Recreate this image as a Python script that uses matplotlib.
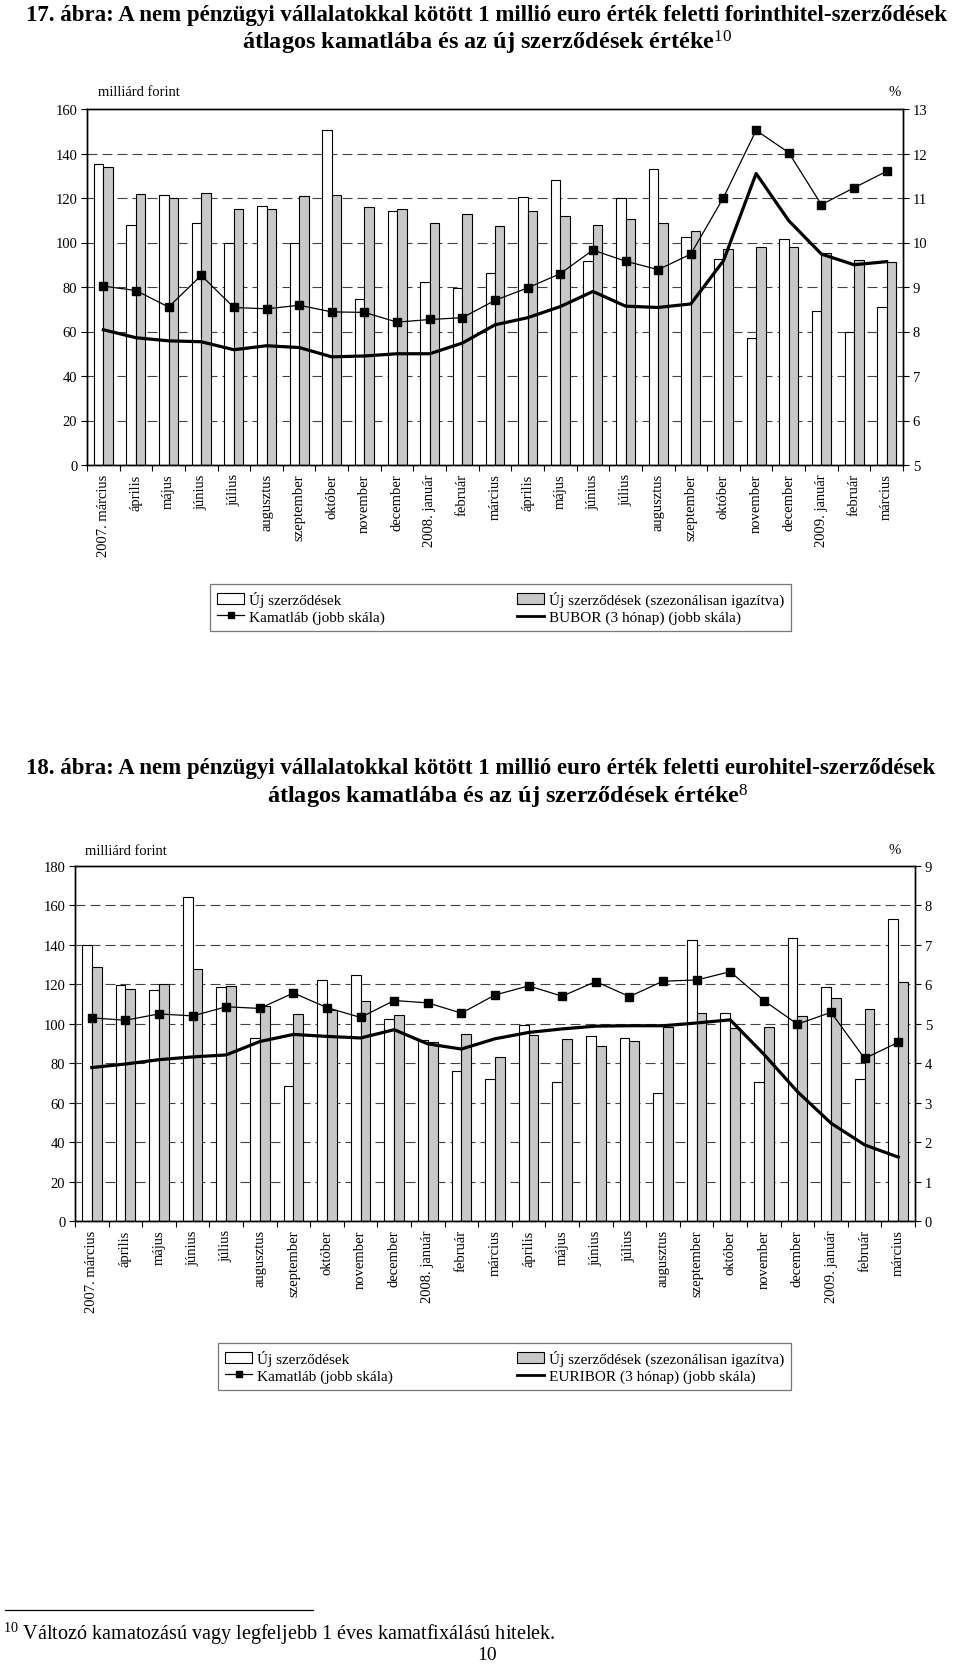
import matplotlib
matplotlib.use("Agg")
import matplotlib.pyplot as plt
import numpy as np
from matplotlib.lines import Line2D
from matplotlib.patches import Patch

plt.rcParams['font.family'] = ['Liberation Serif', 'DejaVu Serif']
plt.rcParams['mathtext.fontset'] = 'custom'
plt.rcParams['mathtext.rm'] = 'Liberation Serif'
plt.rcParams['mathtext.it'] = 'Liberation Serif:italic'
plt.rcParams['mathtext.bf'] = 'Liberation Serif:bold'

months = ["2007. március", "április", "május", "június", "július", "augusztus",
          "szeptember", "október", "november", "december", "2008. január", "február",
          "március", "április", "május", "június", "július", "augusztus",
          "szeptember", "október", "november", "december", "2009. január", "február",
          "március"]

# Chart 17 (forint loans)
huf_new = [135.1, 108.0, 121.3, 108.9, 100.0, 116.3, 99.8, 150.7, 74.6, 114.3, 82.1, 79.6,
           86.3, 120.3, 128.2, 91.5, 119.9, 133.2, 102.3, 92.4, 57.2, 101.6, 69.1, 59.6, 71.2]
huf_sa = [133.9, 121.6, 120.0, 122.1, 114.9, 114.9, 121.0, 121.3, 116.1, 114.9, 108.9, 112.7,
          107.6, 114.0, 112.1, 107.7, 110.7, 108.6, 105.3, 97.2, 98.0, 98.0, 95.1, 92.3, 91.1]
huf_rate = [9.02, 8.92, 8.55, 9.26, 8.54, 8.51, 8.59, 8.44, 8.43, 8.21, 8.27, 8.31,
            8.70, 8.98, 9.30, 9.83, 9.58, 9.39, 9.74, 11.01, 12.52, 12.02, 10.85, 11.23, 11.60]
bubor = [8.04, 7.86, 7.79, 7.77, 7.59, 7.68, 7.64, 7.43, 7.45, 7.50, 7.50, 7.74,
         8.15, 8.31, 8.56, 8.90, 8.57, 8.54, 8.62, 9.59, 11.55, 10.49, 9.74, 9.50, 9.57]

# Chart 18 (euro loans)
eur_new = [140.0, 119.8, 116.9, 164.5, 118.8, 92.9, 68.5, 122.1, 124.5, 102.6, 91.8, 76.2,
           71.9, 99.2, 70.7, 93.6, 92.9, 64.9, 142.4, 105.3, 70.5, 143.7, 118.9, 71.9, 153.2]
eur_sa = [129.0, 117.4, 120.1, 128.0, 119.3, 109.1, 104.8, 107.0, 111.8, 104.3, 90.9, 94.6,
          83.2, 94.3, 92.1, 88.7, 91.4, 98.2, 105.3, 97.8, 98.5, 103.7, 113.2, 107.6, 121.1]
eur_rate = [5.15, 5.09, 5.25, 5.20, 5.43, 5.39, 5.78, 5.41, 5.16, 5.59, 5.53, 5.27,
            5.73, 5.96, 5.70, 6.07, 5.69, 6.08, 6.11, 6.32, 5.59, 4.99, 5.29, 4.12, 4.53]
euribor = [3.89, 3.98, 4.09, 4.16, 4.21, 4.55, 4.73, 4.68, 4.64, 4.85, 4.49, 4.36,
           4.62, 4.78, 4.87, 4.94, 4.95, 4.95, 5.02, 5.10, 4.23, 3.28, 2.48, 1.93, 1.62]

W, H = 960, 1665
fig = plt.figure(figsize=(W / 100, H / 100), dpi=100)

FS = 10.5
LFS = 11
GRAY = '#c8c8c8'


def fx(px):
    return px / W


def fy(py):
    return 1 - py / H


def draw_chart(rect, new, sa, rate, ref, lmax, lstep, rlim, rstep, ref_label, leg_rect):
    ax = fig.add_axes(rect)
    x = np.arange(len(months))
    bw = 0.29
    ax.bar(x - bw, new, width=bw, align='edge', color='white', edgecolor='black',
           linewidth=0.8, zorder=2)
    ax.bar(x, sa, width=bw, align='edge', color=GRAY, edgecolor='black',
           linewidth=0.8, zorder=2)
    ax.set_xlim(-0.5, len(months) - 0.5)
    ax.set_ylim(0, lmax)
    ax.set_yticks(np.arange(0, lmax + 1, lstep))
    for v in np.arange(lstep, lmax, lstep):
        ax.axhline(v, color='#444444', linewidth=0.8, linestyle=(0, (9, 4.5)), zorder=1)
    ax.set_xticks(x)
    ax.set_xticklabels(months, rotation=90, fontsize=FS, va='top', ha='center')
    ax.set_xticks(np.arange(-0.5, len(months), 1), minor=True)
    ax.tick_params(axis='x', which='major', length=0, pad=6)
    ax.tick_params(axis='x', which='minor', length=4, width=0.8, direction='out')
    ax.tick_params(axis='y', length=4, width=0.8, labelsize=FS, pad=3)
    for s in ax.spines.values():
        s.set_linewidth(1.0)
    ax2 = ax.twinx()
    ax2.set_ylim(*rlim)
    ax2.set_yticks(np.arange(rlim[0], rlim[1] + 0.01, rstep))
    ax2.tick_params(axis='y', length=4, width=0.8, labelsize=FS, pad=3)
    ax2.plot(x, rate, color='black', linewidth=0.9, marker='s', markersize=5.8, zorder=5)
    ax2.plot(x, ref, color='black', linewidth=2.3, zorder=4)
    for s in ax2.spines.values():
        s.set_linewidth(1.0)
    ax.set_zorder(1)
    ax2.set_zorder(2)
    ax2.patch.set_visible(False)

    handles = [Patch(facecolor='white', edgecolor='black', linewidth=0.8),
               Line2D([], [], color='black', linewidth=0.9, marker='s', markersize=4.5),
               Patch(facecolor=GRAY, edgecolor='black', linewidth=0.8),
               Line2D([], [], color='black', linewidth=2.0)]
    labels = ['Új szerződések', 'Kamatláb (jobb skála)',
              'Új szerződések (szezonálisan igazítva)', ref_label]
    leg = fig.legend(handles, labels, ncol=2, loc='center', bbox_to_anchor=leg_rect,
                     mode='expand', fontsize=LFS, frameon=True, fancybox=False,
                     borderpad=0.45, labelspacing=0.2, handlelength=1.8,
                     handletextpad=0.3, handleheight=0.7, borderaxespad=0.0)
    leg.get_frame().set_edgecolor('#555555')
    leg.get_frame().set_linewidth(0.9)
    return ax, ax2


# Chart 1
ax1, ax1r = draw_chart([fx(87), fy(466), fx(903 - 87), (466 - 110) / H],
                       huf_new, huf_sa, huf_rate, bubor, 160, 20, (5, 13), 1,
                       'BUBOR (3 hónap) (jobb skála)',
                       (fx(210), fy(630), fx(791 - 210), 43 / H))
fig.text(fx(98), fy(93), 'milliárd forint', fontsize=FS, ha='left', va='center')
fig.text(fx(895), fy(93), '%', fontsize=FS, ha='center', va='center')

fig.text(fx(487), fy(15), '17. ábra: A nem pénzügyi vállalatokkal kötött 1 millió euro érték feletti forinthitel-szerződések',
         fontsize=16.5, fontweight='bold', ha='center', va='center')
fig.text(fx(487), fy(43), r'átlagos kamatlába és az új szerződések értéke$^{\mathrm{10}}$',
         fontsize=17.5, fontweight='bold', ha='center', va='center')

# Chart 2
ax2, ax2r = draw_chart([fx(75), fy(1222), fx(915 - 75), (1222 - 867) / H],
                       eur_new, eur_sa, eur_rate, euribor, 180, 20, (0, 9), 1,
                       'EURIBOR (3 hónap) (jobb skála)',
                       (fx(218), fy(1388), fx(791 - 218), 41 / H))
fig.text(fx(85), fy(852), 'milliárd forint', fontsize=FS, ha='left', va='center')
fig.text(fx(895), fy(850), '%', fontsize=FS, ha='center', va='center')

fig.text(fx(481), fy(769), '18. ábra: A nem pénzügyi vállalatokkal kötött 1 millió euro érték feletti eurohitel-szerződések',
         fontsize=16.5, fontweight='bold', ha='center', va='center')
fig.text(fx(508), fy(797), r'átlagos kamatlába és az új szerződések értéke$^{\mathrm{8}}$',
         fontsize=17.5, fontweight='bold', ha='center', va='center')

# Footnote
fig.add_artist(Line2D([fx(5), fx(313)], [fy(1611), fy(1611)], color='black', linewidth=0.9))
fig.text(fx(3), fy(1634), r'$^{\mathrm{10}}$ Változó kamatozású vagy legfeljebb 1 éves kamatfixálású hitelek.',
         fontsize=14.5, ha='left', va='center')
fig.text(fx(487), fy(1656), '10', fontsize=14, ha='center', va='center')

fig.savefig('out.png', dpi=100)
